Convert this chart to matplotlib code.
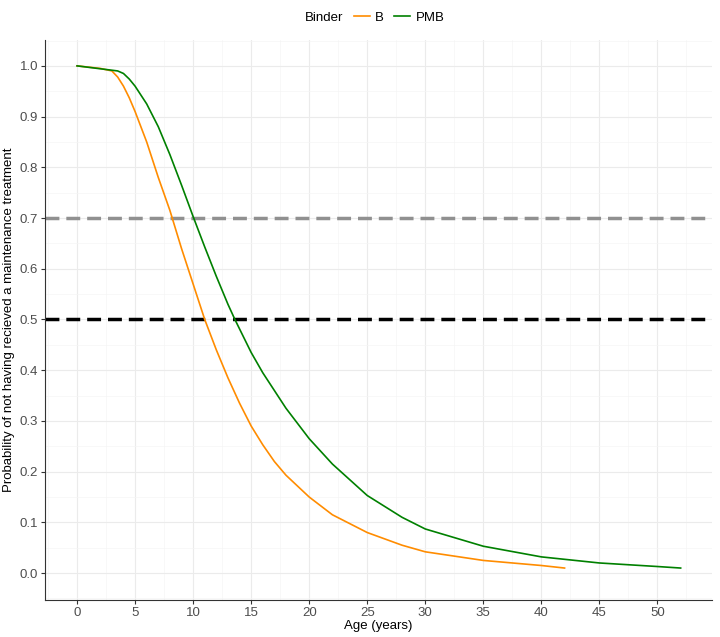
import matplotlib
matplotlib.use("Agg")
import matplotlib.pyplot as plt
from matplotlib.offsetbox import HPacker

plt.rcParams['font.family'] = ['Liberation Sans', 'DejaVu Sans']

b_x = [0, 2, 3, 3.5, 4, 4.5, 5, 6, 7, 8, 9, 10, 11, 12, 13, 14, 15, 16, 17, 18, 20, 22, 25, 28, 30, 35, 40, 42]
b_y = [1.0, 0.995, 0.99, 0.978, 0.96, 0.937, 0.91, 0.85, 0.78, 0.715, 0.64, 0.57, 0.5, 0.44, 0.385, 0.335, 0.29, 0.253, 0.22, 0.193, 0.15, 0.115, 0.08, 0.055, 0.042, 0.025, 0.015, 0.01]
p_x = [0, 3.5, 4, 4.5, 5, 6, 7, 8, 9, 10, 11, 12, 13, 13.6, 15, 16, 17, 18, 20, 22, 25, 28, 30, 35, 40, 45, 50, 52]
p_y = [1.0, 0.99, 0.985, 0.974, 0.96, 0.925, 0.88, 0.825, 0.765, 0.703, 0.643, 0.585, 0.53, 0.5, 0.435, 0.395, 0.36, 0.325, 0.265, 0.215, 0.153, 0.11, 0.087, 0.053, 0.032, 0.02, 0.013, 0.01]
thresholds = [0.7, 0.5]

fig = plt.figure(figsize=(7.2, 6.37), dpi=100)
ax = fig.add_axes([45/720, 1-600/637, 667/720, 560/637])
ax.set_xlim(-2.76, 54.7)
ax.set_ylim(-0.053, 1.051)
ax.set_xticks(range(0, 55, 5))
ax.set_yticks([i/10 for i in range(11)])
ax.set_xticks([x+2.5 for x in range(-5, 55, 5)], minor=True)
ax.set_yticks([i/10+0.05 for i in range(-1, 11)], minor=True)
ax.grid(True, which='major', color='#ebebeb', lw=0.8)
ax.grid(True, which='minor', color='#f5f5f5', lw=0.5)
ax.set_axisbelow(True)
for s in ['top', 'right']:
    ax.spines[s].set_visible(False)
for s in ['left', 'bottom']:
    ax.spines[s].set_color('#333333')
ax.tick_params(which='minor', length=0)
ax.tick_params(which='major', colors='#333333', labelcolor='#4d4d4d', labelsize=9.5, length=3, pad=2)
ax.axhline(thresholds[0], color='#909090', ls=(0, (4, 2)), lw=2.5)
ax.axhline(thresholds[1], color='black', ls=(0, (4, 2)), lw=2.5)
l1, = ax.plot(b_x, b_y, color='#ff8c00', lw=1.2, label='B')
l2, = ax.plot(p_x, p_y, color='#008000', lw=1.2, label='PMB')
ax.set_xlabel('Age (years)', fontsize=9.5, labelpad=1)
ax.set_ylabel('Probability of not having recieved a maintenance treatment', fontsize=9.5, labelpad=3)
leg = fig.legend(handles=[l1, l2], loc='upper center', bbox_to_anchor=(0.52, 1.0), ncol=2,
                 frameon=False, title='Binder', fontsize=9.5, title_fontsize=9.5,
                 handlelength=1.2, columnspacing=0.8, handletextpad=0.4)
title = leg._legend_title_box
hp = leg._legend_handle_box
leg._legend_box._children = [HPacker(children=[title, hp], sep=8, pad=0, align='center')]
fig.savefig('out.png', dpi=100)
